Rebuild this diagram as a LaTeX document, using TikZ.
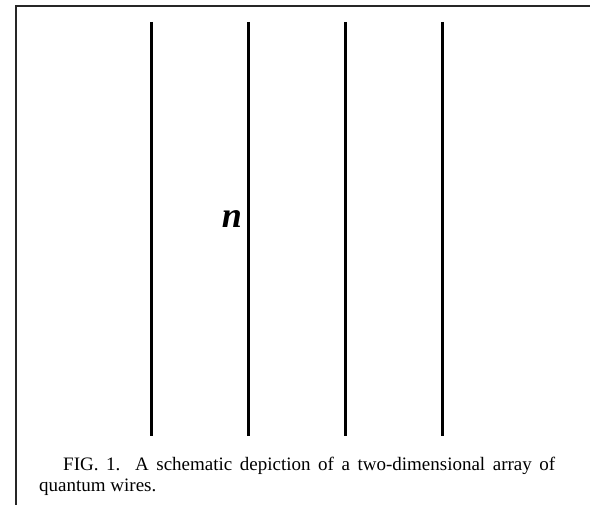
\documentclass[tikz,border=0pt]{standalone}
\usepackage{fontspec}
\setmainfont{Liberation Serif}
\tikzset{
  wire/.style={line width=3pt, black},
  frameline/.style={line width=2pt, black!85},
  wirelabel/.style={font=\fontsize{36}{40}\selectfont\bfseries\itshape, inner sep=0pt},
  captiontext/.style={font=\fontsize{19}{21}\selectfont, inner sep=0pt, anchor=north west, text width=516pt, align=justify}
}
\begin{document}
\begin{tikzpicture}[x=1pt,y=-1pt]
\useasboundingbox (0,0) rectangle (590,505);
\fill[white] (0,0) rectangle (590,505);
% frame (top and left edges)
\coordinate (fTL) at (16,6);
\coordinate (fTR) at (590,6);
\coordinate (fBL) at (16,505);
\draw[frameline] (fTR) -- (fTL) -- (fBL);
% wires
\foreach \i/\x in {1/151,2/248,3/345,4/442}{
  \coordinate (w\i t) at (\x,22);
  \coordinate (w\i b) at (\x,436);
  \draw[wire] (w\i t) -- (w\i b);
}
\node[wirelabel] (n) at (232,219) {n};
\node[captiontext] (cap) at (39,457) {\hspace*{24pt}FIG. 1. A schematic depiction of a two-dimensional array of\linebreak quantum wires.};
\end{tikzpicture}
\end{document}
